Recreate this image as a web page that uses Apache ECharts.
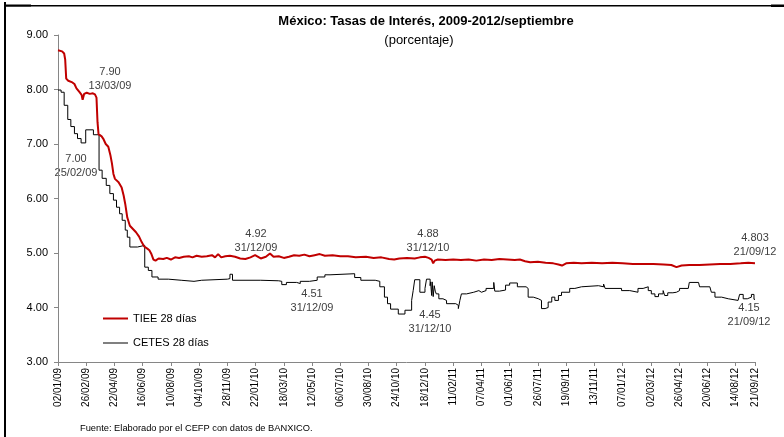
<!DOCTYPE html>
<html><head><meta charset="utf-8">
<script src="https://cdn.jsdelivr.net/npm/echarts@6/dist/echarts.min.js"></script>
<style>html,body{margin:0;padding:0;background:#fff}#c{width:784px;height:437px}</style>
</head><body><div id="c"></div>
<script>
// x values are days elapsed since 02/01/2009
const startDateUTC = Date.UTC(2009, 0, 2);
const tickStepDays = 55;
const lastDay = 1358; // 21/09/2012

const tieeDays = [0,8,12,14,16,20,28,32,36,42,46,48,51,56,62,68,72,75,77,79,85,88,93,98,102,105,108,111,118,124,128,131,135,140,146,152,158,163,168,174,178,182,186,190,196,205,212,220,228,236,245,255,262,270,280,290,300,306,312,318,326,335,345,355,365,375,384,395,405,413,420,430,440,450,460,470,480,490,500,510,520,535,550,565,580,600,615,630,645,655,665,680,695,705,715,722,728,731,734,740,755,770,785,800,815,830,845,860,875,890,900,910,920,935,950,965,975,982,990,1005,1020,1040,1060,1080,1100,1120,1140,1160,1180,1195,1205,1215,1230,1250,1270,1290,1310,1330,1345,1358];
const tieeValues = [8.72,8.70,8.66,8.55,8.20,8.16,8.13,8.10,8.02,7.95,7.90,7.81,7.92,7.94,7.92,7.93,7.91,7.85,7.40,7.18,7.14,7.10,7.00,6.95,6.80,6.65,6.45,6.36,6.30,6.20,6.05,5.90,5.65,5.50,5.44,5.38,5.30,5.20,5.12,5.08,5.05,4.98,4.88,4.86,4.90,4.89,4.91,4.88,4.92,4.91,4.93,4.94,4.92,4.95,4.93,4.94,4.96,4.92,4.98,4.92,4.94,4.95,4.93,4.90,4.89,4.92,4.96,4.90,4.93,4.99,4.93,4.94,4.91,4.93,4.96,4.95,4.97,4.94,4.96,4.98,4.95,4.96,4.94,4.94,4.92,4.93,4.91,4.92,4.89,4.88,4.90,4.91,4.90,4.92,4.93,4.91,4.88,4.81,4.86,4.88,4.87,4.88,4.87,4.88,4.86,4.88,4.87,4.89,4.88,4.87,4.88,4.85,4.83,4.84,4.82,4.81,4.79,4.77,4.81,4.82,4.81,4.82,4.81,4.82,4.81,4.80,4.80,4.80,4.79,4.78,4.74,4.77,4.78,4.78,4.79,4.80,4.80,4.81,4.82,4.81];

const cetesDays = [0,6,12,19,25,32,38,45,54,69,80,86,94,101,108,114,120,125,131,135,140,155,169,176,183,195,215,240,265,280,330,335,340,395,430,436,445,465,472,490,505,520,530,578,590,618,627,636,642,648,663,676,689,692,695,705,715,718,725,726,728,729,731,733,735,737,742,750,757,775,780,783,786,796,810,820,825,834,849,851,860,872,880,895,912,916,926,936,942,949,955,962,968,975,981,997,1007,1020,1053,1063,1066,1098,1114,1130,1140,1150,1156,1163,1170,1179,1182,1188,1198,1205,1211,1228,1230,1248,1250,1270,1273,1280,1293,1306,1325,1328,1335,1343,1351,1356,1358];
const cetesValues = [7.99,7.95,7.71,7.45,7.32,7.19,7.10,7.02,7.26,7.17,6.52,6.37,6.24,6.09,5.97,5.84,5.72,5.60,5.42,5.29,5.11,5.14,4.74,4.68,4.56,4.52,4.50,4.48,4.50,4.52,4.53,4.61,4.50,4.49,4.48,4.42,4.46,4.44,4.48,4.50,4.56,4.60,4.62,4.55,4.50,4.48,4.38,4.19,4.07,3.97,3.88,3.95,4.13,4.31,4.51,4.28,4.35,4.52,4.40,4.47,4.22,4.47,4.20,4.40,4.30,4.25,4.16,4.13,4.07,4.04,3.98,4.13,4.25,4.28,4.31,4.28,4.31,4.35,4.46,4.30,4.32,4.41,4.45,4.38,4.35,4.19,4.16,4.13,3.98,4.00,4.10,4.19,4.13,4.22,4.28,4.35,4.38,4.40,4.38,4.43,4.35,4.31,4.28,4.35,4.38,4.31,4.25,4.20,4.25,4.31,4.22,4.27,4.28,4.31,4.35,4.38,4.46,4.44,4.38,4.37,4.28,4.19,4.16,4.13,4.11,4.24,4.16,4.19,4.24,4.15,4.15];

const seriesNames = ['TIEE 28 días', 'CETES 28 días'];
const titleText = 'México: Tasas de Interés, 2009-2012/septiembre';
const subtitleText = '(porcentaje)';
const sourceText = 'Fuente: Elaborado por el CEFP con datos de BANXICO.';
const annotationTexts = ['7.90\n13/03/09','7.00\n25/02/09','4.92\n31/12/09','4.51\n31/12/09','4.88\n31/12/10','4.45\n31/12/10','4.803\n21/09/12','4.15\n21/09/12'];

const FONT = "'Liberation Sans', Arial, sans-serif";
const pad = n => (n < 10 ? '0' : '') + n;
function dayLabel(v) {
  const d = new Date(startDateUTC + Math.round(v) * 86400000);
  return pad(d.getUTCDate()) + '/' + pad(d.getUTCMonth() + 1) + '/' + pad(d.getUTCFullYear() % 100);
}

const annPos = [[110,79],[76,165.5],[256,241],[312,301],[428,240.5],[430,321.5],[755,244.5],[749,314.5]];
const graphics = [
  {type:'rect', shape:{x:4,y:2,width:2,height:435}, style:{fill:'#000'}},
  {type:'rect', shape:{x:5,y:5,width:779,height:1.5}, style:{fill:'#000'}},
  {type:'rect', shape:{x:5,y:4.5,width:26,height:2}, style:{fill:'#000'}},
  {type:'rect', shape:{x:771,y:4.5,width:13,height:2.5}, style:{fill:'#000'}},
  {type:'text', x:426, y:21, style:{text:titleText, font:'bold 13px ' + FONT, fill:'#000', textAlign:'center', textVerticalAlign:'middle'}},
  {type:'text', x:419, y:40, style:{text:subtitleText, font:'13px ' + FONT, fill:'#000', textAlign:'center', textVerticalAlign:'middle'}},
  {type:'text', x:80, y:428, style:{text:sourceText, font:'9.3px ' + FONT, fill:'#000', textAlign:'left', textVerticalAlign:'middle'}}
];
annotationTexts.forEach((t, i) => {
  graphics.push({type:'text', x:annPos[i][0], y:annPos[i][1], style:{text:t, font:'11px ' + FONT, fill:'#404040', textAlign:'center', textVerticalAlign:'middle', lineHeight:14}});
});

const legendText = {fontFamily: FONT, fontSize: 11, color: '#000'};
const chart = echarts.init(document.getElementById('c'), null, {renderer:'canvas'});
chart.setOption({
  animation: false,
  backgroundColor: '#fff',
  grid: {left: 58, right: 29, top: 35, bottom: 75},
  legend: [
    {left: 103, top: 313, padding: 0, itemWidth: 25, itemHeight: 2, itemGap: 0,
     textStyle: legendText, data: [{name: seriesNames[0], icon: 'rect'}]},
    {left: 103, top: 337.5, padding: 0, itemWidth: 25, itemHeight: 1, itemGap: 0,
     textStyle: legendText, data: [{name: seriesNames[1], icon: 'rect'}]}
  ],
  xAxis: {
    type: 'value', min: 0, max: lastDay, interval: tickStepDays,
    axisLine: {lineStyle: {color: '#868686', width: 1}},
    axisTick: {show: true, length: 4, lineStyle: {color: '#868686'}},
    splitLine: {show: false},
    axisLabel: {rotate: 90, fontSize: 10, fontFamily: FONT, color: '#000', margin: 6, formatter: dayLabel}
  },
  yAxis: {
    type: 'value', min: 3, max: 9, interval: 1,
    axisLine: {show: true, lineStyle: {color: '#868686', width: 1}},
    axisTick: {show: true, length: 4, lineStyle: {color: '#868686'}},
    splitLine: {show: false},
    axisLabel: {fontSize: 11, fontFamily: FONT, color: '#000', margin: 10, formatter: v => v.toFixed(2)}
  },
  series: [
    {name: seriesNames[0], type: 'line', symbol: 'none', data: tieeDays.map((d, i) => [d, tieeValues[i]]),
     lineStyle: {color: '#c00000', width: 2}, itemStyle: {color: '#c00000'}, z: 3},
    {name: seriesNames[1], type: 'line', symbol: 'none', step: 'end', data: cetesDays.map((d, i) => [d, cetesValues[i]]),
     lineStyle: {color: '#000', width: 1}, itemStyle: {color: '#000'}, z: 2}
  ],
  graphic: graphics
});
</script></body></html>
